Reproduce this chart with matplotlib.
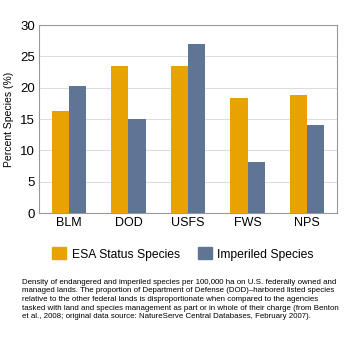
import matplotlib
matplotlib.use("Agg")
from matplotlib import pyplot as plt
import numpy as np

agencies = ["BLM", "DOD", "USFS", "FWS", "NPS"]
esa_status = [16.3, 23.5, 23.5, 18.3, 18.8]
imperiled = [20.3, 15.0, 26.9, 8.1, 14.0]

caption = ("Density of endangered and imperiled species per 100,000 ha on U.S. federally owned and\n"
           "managed lands. The proportion of Department of Defense (DOD)\u2013harbored listed species\n"
           "relative to the other federal lands is disproportionate when compared to the agencies\n"
           "tasked with land and species management as part or in whole of their charge (from Benton\n"
           "et al., 2008; original data source: NatureServe Central Databases, February 2007).")

plt.rcParams['font.family'] = ['Liberation Sans', 'DejaVu Sans']

orange = "#E8A202"
blue = "#5F7595"

fig = plt.figure(figsize=(3.5, 3.5), dpi=100)
ax = fig.add_axes([39 / 350, 1 - 213 / 350, 298 / 350, 188 / 350])

x = np.arange(len(agencies))
w = 0.29
ax.bar(x - w / 2, esa_status, w, color=orange, zorder=3)
ax.bar(x + w / 2, imperiled, w, color=blue, zorder=3)

ax.set_xlim(-0.5, len(agencies) - 0.5)
ax.set_ylim(0, 30)
ax.set_yticks(range(0, 31, 5))
ax.set_xticks(x)
ax.set_xticklabels(agencies)
ax.tick_params(length=0, labelsize=9, pad=3)
ax.tick_params(axis='y', labelsize=9.5)
ax.yaxis.grid(True, color="#dddddd", linewidth=0.8, zorder=0)
for s in ax.spines.values():
    s.set_color("#999999")
    s.set_linewidth(0.8)
ax.set_ylabel("Percent Species (%)", fontsize=7.5, labelpad=4)

fig.legend(handles=[plt.Rectangle((0, 0), 1, 1, color=orange),
                    plt.Rectangle((0, 0), 1, 1, color=blue)],
           labels=["ESA Status Species", "Imperiled Species"],
           loc="center", bbox_to_anchor=(183 / 350, 1 - 254 / 350), ncol=2,
           frameon=False, fontsize=8.7, handlelength=1.15, handleheight=1.15,
           handletextpad=0.45, columnspacing=1.5, borderpad=0)

fig.text(22 / 350, 1 - 279 / 350, caption, fontsize=5.65, va="top", ha="left",
         linespacing=1.3)

fig.savefig("out.png", dpi=100)
